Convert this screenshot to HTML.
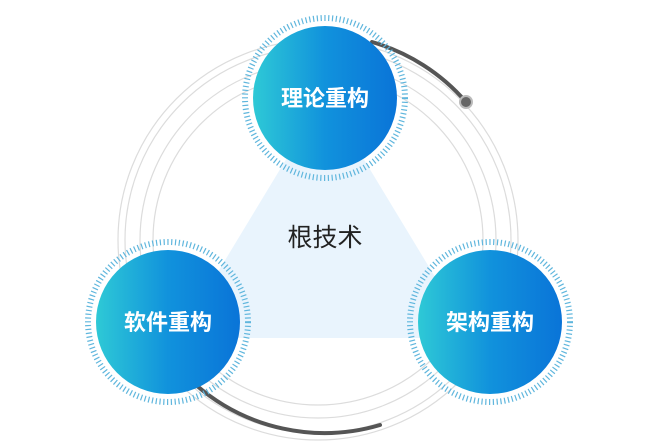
<!DOCTYPE html>
<html><head><meta charset="utf-8"><style>
html,body{margin:0;padding:0;background:#fff;width:660px;height:444px;overflow:hidden}
</style></head><body>
<svg width="660" height="444" viewBox="0 0 660 444" xmlns="http://www.w3.org/2000/svg">
<defs>
<linearGradient id="g" x1="0" y1="0" x2="1" y2="0">
<stop offset="0" stop-color="#2ec9d6"/><stop offset="0.5" stop-color="#1192dc"/><stop offset="1" stop-color="#0a74d8"/>
</linearGradient>
</defs>
<g fill="none" stroke="#dcdcdc" stroke-width="1.2">
<circle cx="318" cy="240" r="200"/>
<circle cx="318" cy="240" r="193"/>
<circle cx="318" cy="240" r="178"/>
<circle cx="318" cy="240" r="165"/>
</g>
<polygon points="325,95 178,338 472,338" fill="#e9f4fd"/>
<path d="M372,42 A196,196 0 0 1 466,102" fill="none" stroke="#555" stroke-width="4" stroke-linecap="round"/>
<circle cx="466" cy="102" r="6" fill="#666" stroke="#bbb" stroke-width="2"/>
<path d="M196,385 A196,196 0 0 0 380,425" fill="none" stroke="#555" stroke-width="4" stroke-linecap="round"/>
<g fill="none" stroke="#5fb6dd" stroke-width="6" stroke-dasharray="1.2 2.6">
<circle cx="325" cy="98" r="80"/>
<circle cx="168" cy="322" r="80"/>
<circle cx="490" cy="322" r="80"/>
</g>
<circle cx="325" cy="98" r="72" fill="url(#g)"/>
<circle cx="168" cy="322" r="72" fill="url(#g)"/>
<circle cx="490" cy="322" r="72" fill="url(#g)"/>
<g font-family="Liberation Sans, Noto Sans CJK SC, sans-serif" font-weight="bold" font-size="22" fill="#fff" text-anchor="middle">
<text x="325" y="106">理论重构</text>
<text x="168" y="330">软件重构</text>
<text x="490" y="330">架构重构</text>
</g>
<text x="325" y="246" font-family="Liberation Sans, Noto Sans CJK SC, sans-serif" font-size="25" fill="#222" text-anchor="middle">根技术</text>
</svg>
</body></html>
